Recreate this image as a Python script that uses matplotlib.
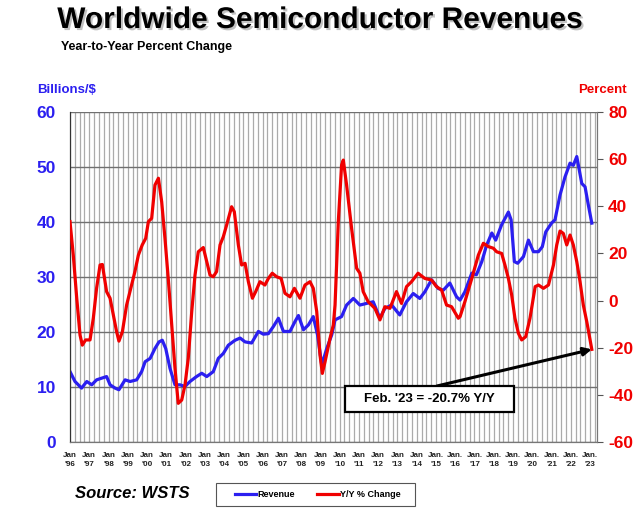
import matplotlib
matplotlib.use('Agg')
import matplotlib.pyplot as plt
import matplotlib.patheffects as pe
from matplotlib.patches import Rectangle
import numpy as np

plt.rcParams['font.family'] = ['Liberation Sans', 'DejaVu Sans']
plt.rcParams['axes.unicode_minus'] = False

# revenue, billions of dollars (3-month avg), read at decimal-year positions
rev_year = [1996.0, 1996.26, 1996.6, 1996.87, 1997.13, 1997.38, 1997.64, 1997.9,
            1998.08, 1998.34, 1998.54, 1998.86, 1999.12, 1999.46, 1999.72, 1999.9,
            2000.16, 2000.41, 2000.62, 2000.79, 2000.97, 2001.19, 2001.45, 2001.71,
            2001.97, 2002.23, 2002.57, 2002.84, 2003.1, 2003.44, 2003.7, 2003.96,
            2004.22, 2004.57, 2004.83, 2005.09, 2005.43, 2005.78, 2006.04, 2006.3,
            2006.56, 2006.82, 2007.08, 2007.42, 2007.68, 2007.86, 2008.12, 2008.38,
            2008.63, 2008.85, 2009.07, 2009.33, 2009.59, 2009.76, 2010.1, 2010.36,
            2010.71, 2011.05, 2011.4, 2011.74, 2012.09, 2012.35, 2012.7, 2013.12,
            2013.47, 2013.82, 2014.16, 2014.42, 2014.77, 2015.12, 2015.38, 2015.72,
            2016.07, 2016.25, 2016.5, 2016.86, 2017.1, 2017.38, 2017.63, 2017.9,
            2018.1, 2018.41, 2018.76, 2018.9, 2019.07, 2019.24, 2019.54, 2019.8,
            2020.06, 2020.32, 2020.52, 2020.7, 2021.0, 2021.18, 2021.44, 2021.7,
            2021.96, 2022.13, 2022.31, 2022.57, 2022.74, 2022.91, 2023.09]
rev_val = [12.8, 11.0, 9.8, 11.0, 10.4, 11.3, 11.6, 11.9,
           10.4, 9.8, 9.5, 11.3, 11.0, 11.3, 12.8, 14.6,
           15.2, 17.0, 18.2, 18.5, 17.0, 13.4, 10.4, 10.4,
           10.1, 11.0, 11.9, 12.5, 11.9, 12.8, 15.2, 16.1,
           17.6, 18.5, 18.9, 18.2, 18.0, 20.1, 19.6, 19.7,
           21.0, 22.5, 20.1, 20.1, 21.9, 23.0, 20.4, 21.3,
           22.8, 19.5, 14.0, 17.0, 19.5, 22.2, 22.8, 24.9,
           26.1, 24.9, 25.2, 25.5, 22.5, 24.3, 24.9, 23.1,
           25.5, 27.0, 26.1, 27.3, 29.5, 27.9, 27.6, 28.9,
           26.4, 25.8, 27.3, 30.7, 30.4, 32.8, 35.8, 38.0,
           36.7, 39.5, 41.8, 40.4, 32.8, 32.5, 33.7, 36.7,
           34.6, 34.6, 35.5, 38.2, 39.8, 40.4, 44.9, 48.2,
           50.7, 50.3, 51.9, 47.0, 46.4, 43.1, 39.8]

# year-over-year percent change
yoy_year = [1996.0, 1996.17, 1996.35, 1996.52, 1996.64, 1996.81, 1997.04, 1997.21,
            1997.38, 1997.56, 1997.68, 1997.9, 1998.08, 1998.25, 1998.42, 1998.54,
            1998.72, 1998.94, 1999.2, 1999.37, 1999.55, 1999.75, 1999.93, 2000.07,
            2000.24, 2000.41, 2000.59, 2000.76, 2000.93, 2001.1, 2001.28, 2001.45,
            2001.62, 2001.8, 2001.97, 2002.14, 2002.32, 2002.49, 2002.66, 2002.92,
            2003.1, 2003.27, 2003.44, 2003.61, 2003.79, 2003.96, 2004.13, 2004.39,
            2004.53, 2004.74, 2004.91, 2005.09, 2005.26, 2005.47, 2005.64, 2005.86,
            2006.12, 2006.3, 2006.5, 2006.73, 2006.96, 2007.16, 2007.42, 2007.65,
            2007.94, 2008.2, 2008.46, 2008.63, 2008.81, 2008.98, 2009.1, 2009.24,
            2009.5, 2009.67, 2009.76, 2009.93, 2010.1, 2010.19, 2010.36, 2010.62,
            2010.88, 2011.05, 2011.22, 2011.48, 2011.83, 2012.09, 2012.35, 2012.61,
            2012.95, 2013.21, 2013.47, 2013.73, 2014.07, 2014.42, 2014.77, 2015.03,
            2015.29, 2015.55, 2015.81, 2016.16, 2016.25, 2016.5, 2016.86, 2017.2,
            2017.46, 2017.72, 2017.98, 2018.15, 2018.41, 2018.58, 2018.76, 2018.93,
            2019.1, 2019.28, 2019.45, 2019.66, 2019.88, 2020.15, 2020.32, 2020.58,
            2020.84, 2021.1, 2021.27, 2021.44, 2021.61, 2021.79, 2021.96, 2022.13,
            2022.31, 2022.48, 2022.65, 2022.83, 2023.09]
yoy_val = [33.5, 19.3, 1.0, -14.6, -18.9, -16.7, -16.7, -7.5,
           5.2, 15.1, 15.3, 3.8, 1.0, -6.1, -13.2, -17.2,
           -13.2, -1.9, 6.6, 12.3, 19.3, 23.6, 26.4, 33.5,
           34.9, 49.0, 51.9, 41.9, 26.4, 9.4, -10.4, -28.7,
           -43.6, -42.2, -35.8, -24.5, -4.7, 10.8, 20.7, 22.5,
           16.5, 10.8, 10.1, 12.3, 23.6, 27.1, 32.0, 39.8,
           37.7, 23.6, 15.1, 15.8, 8.0, 1.0, 3.8, 8.0,
           6.6, 9.4, 11.6, 10.1, 9.4, 3.1, 1.6, 5.2,
           1.0, 6.6, 8.0, 5.2, -4.7, -23.1, -30.9, -26.0,
           -16.0, -10.4, -1.9, 33.5, 57.5, 59.6, 49.0, 30.6,
           13.7, 11.6, 3.8, -0.5, -3.3, -8.2, -2.6, -3.3,
           3.8, -1.2, 5.9, 8.0, 11.6, 9.4, 8.7, 5.9,
           4.5, -1.9, -2.6, -7.5, -6.8, -0.5, 9.4, 19.3,
           24.3, 22.9, 22.2, 20.7, 20.0, 15.1, 9.4, 2.4,
           -7.5, -13.9, -16.7, -15.3, -7.5, 5.9, 6.6, 5.2,
           6.6, 15.1, 23.6, 29.5, 28.5, 23.6, 27.8, 23.6,
           16.5, 8.0, -1.9, -9.0, -20.7]

tick_years = list(range(1996, 2024))
tick_labels = [("Jan.\n'%02d" if y >= 2015 else "Jan\n'%02d") % (y % 100) for y in tick_years]

blue = '#2b1ff0'
red = '#f00000'

fig = plt.figure(figsize=(6.4, 5.18), dpi=100)
ax = fig.add_axes([70/640, 1-442/518, 527/640, 330/518])
ax2 = ax.twinx()

# quarterly vertical grid
for q in np.arange(1996, 2023.3, 0.25):
    ax.axvline(q, color='#ababab', lw=0.9, zorder=0)
ax.set_yticks(range(0, 61, 10))
ax.yaxis.grid(True, color='#707070', lw=1.0, zorder=0)
ax.set_axisbelow(True)

ax.plot(rev_year, rev_val, color=blue, lw=2.3, zorder=3, label='Revenue')
ax2.plot(yoy_year, yoy_val, color=red, lw=2.3, zorder=3, label='Y/Y % Change')

ax.set_xlim(1996, 2023.36)
ax.set_ylim(0, 60)
ax2.set_ylim(-60, 80)
ax2.set_yticks(range(-60, 81, 20))

ax.set_xticks(tick_years)
ax.set_xticklabels(tick_labels, fontsize=5.8, fontweight='bold', color='#222222', linespacing=1.5)
ax.tick_params(axis='x', length=0, pad=7)
ax.tick_params(axis='y', length=0, pad=10, labelsize=12.5, labelcolor=blue)
for t in ax.get_yticklabels():
    t.set_fontweight('bold')
ax2.tick_params(axis='y', length=4, width=0.8, color='#555555', pad=4,
                labelsize=12.5, labelcolor=red)
for t in ax2.get_yticklabels():
    t.set_fontweight('bold')

for a in (ax, ax2):
    a.spines['top'].set_visible(False)
    a.spines['left'].set_color('#333333')
    a.spines['right'].set_color('#777777')
    a.spines['bottom'].set_color('#777777')

# callout box and arrow
fig.patches.append(Rectangle((345/640, 1-412/518), 169/640, 26/518, transform=fig.transFigure,
                             fc='white', ec='black', lw=1.6, zorder=5))
fig.text(429.5/640, 1-399/518, "Feb. '23 = -20.7% Y/Y", ha='center', va='center',
         fontsize=9.5, fontweight='bold', zorder=6)
ax2.annotate('', xy=(2023.09, -20.7), xycoords='data',
             xytext=(437/640, 1-386/518), textcoords='figure fraction',
             arrowprops=dict(arrowstyle='-|>', color='black', lw=2.2,
                             mutation_scale=12, shrinkA=0, shrinkB=0),
             zorder=5)

fig.text(0.5, 1-20/518, 'Worldwide Semiconductor Revenues', ha='center', va='center',
         fontsize=21.5, fontweight='bold',
         path_effects=[pe.withSimplePatchShadow(offset=(1.5, -1.5), shadow_rgbFace='#999999', alpha=0.6)])
fig.text(61/640, 1-47/518, 'Year-to-Year Percent Change', ha='left', va='center',
         fontsize=9, fontweight='bold')
fig.text(37/640, 1-90/518, 'Billions/$', ha='left', va='center',
         fontsize=9.5, fontweight='bold', color=blue)
fig.text(627/640, 1-90/518, 'Percent', ha='right', va='center',
         fontsize=9.5, fontweight='bold', color=red)
fig.text(75/640, 1-494/518, 'Source: WSTS', ha='left', va='center',
         fontsize=12, fontweight='bold', style='italic')

# legend with its own frame
fig.patches.append(Rectangle((216/640, 1-506/518), 199/640, 23/518, transform=fig.transFigure,
                             fc='white', ec='#555555', lw=0.8))
h1, l1 = ax.get_legend_handles_labels()
h2, l2 = ax2.get_legend_handles_labels()
leg = fig.legend(h1 + h2, l1 + l2, loc='center', bbox_to_anchor=(317.5/640, 1-494.5/518),
                 ncol=2, fontsize=6.5, frameon=False,
                 handlelength=2.4, handletextpad=0.1, columnspacing=2.5)
for t in leg.get_texts():
    t.set_fontweight('bold')

fig.savefig('out.png', dpi=100)
